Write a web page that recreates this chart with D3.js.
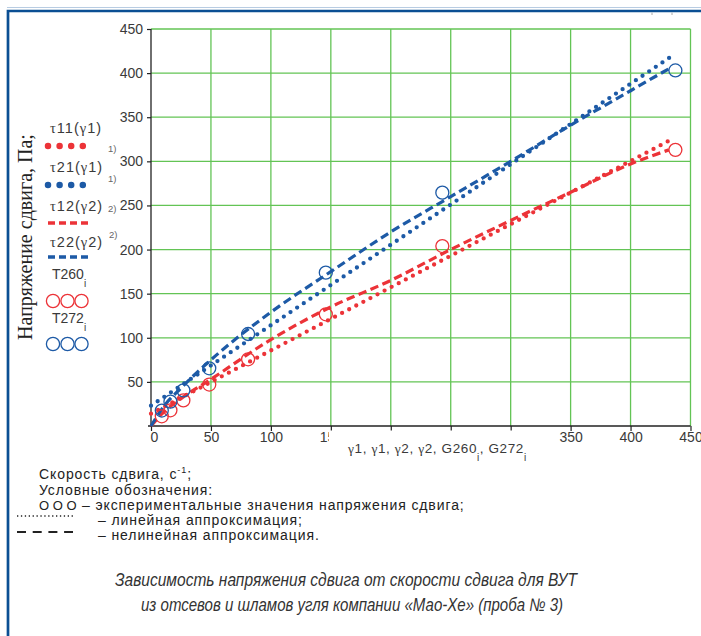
<!DOCTYPE html>
<html>
<head>
<meta charset="utf-8">
<script src="https://cdn.jsdelivr.net/npm/d3@7"></script>
<style>
  body { margin: 0; background: #fff; }
  svg { display: block; }
  .tick text { font-family: "Liberation Sans", Arial, sans-serif; font-size: 14px; fill: #3a3a3a; }
</style>
</head>
<body>
<svg id="chart" width="701" height="636"></svg>
<script>
// measured points, shear rate (1/s) and shear stress (Pa)
var gammaExp = [9, 16.2, 27, 48.6, 81, 145.8, 243, 437.4];
var t260 = [11, 17.8, 29, 47, 75.6, 126.6, 204, 313];
var t272 = [17.5, 27.6, 40.4, 65.4, 104.3, 173.8, 264.5, 403];

// linear approximation (dotted)
var gammaLin = [0, 433];
var tau11 = [14, 324];
var tau21 = [23, 418];

// nonlinear approximation (dashed)
var gammaFit = [0, 10, 25, 50, 100, 150, 200, 250, 300, 350, 400, 432];
var tau12 = [0, 15, 31, 53, 98, 135, 165, 200, 233, 265, 297, 313];
var tau22 = [0, 21, 43, 75, 129, 175, 220, 260, 300, 341, 380, 405];

var xTicks = [0, 50, 100, 150, 200, 250, 300, 350, 400, 450];
// 200..300 are hidden under the axis title in the original
var xTickLabels = ["0", "50", "100", "150", "", "", "", "350", "400", "450"];
var yTicks = [50, 100, 150, 200, 250, 300, 350, 400, 450];

var red = "#ec3338", blue = "#1d5aa6", grid = "#63c455";

var svg = d3.select("#chart");

var x = d3.scaleLinear().domain([0, 450]).range([151, 690.5]);
var y = d3.scaleLinear().domain([0, 450]).range([426, 29]);

// frame
svg.append("path").attr("d", "M7,7.5H701").attr("stroke", "#b8cce2").attr("stroke-width", 1).attr("fill", "none");
svg.append("path").attr("d", "M8,636V11H701").attr("stroke", "#0b4f93").attr("stroke-width", 2.7).attr("fill", "none");
svg.append("path").attr("d", "M652,12.5v2.5M672,12.5v2.5").attr("stroke", "#aaa").attr("stroke-width", 1);

// grid
var g = svg.append("g");
g.selectAll(".vg").data(xTicks.slice(1)).enter().append("line")
  .attr("x1", d => x(d)).attr("x2", d => x(d))
  .attr("y1", y(0)).attr("y2", y(450))
  .attr("stroke", grid).attr("stroke-width", 1.3);
g.selectAll(".hg").data(yTicks).enter().append("line")
  .attr("x1", x(0)).attr("x2", x(450))
  .attr("y1", d => y(d)).attr("y2", d => y(d))
  .attr("stroke", grid).attr("stroke-width", 1.3);

// axes
var xAxis = svg.append("g").attr("transform", "translate(0," + y(0) + ")")
  .call(d3.axisBottom(x).tickValues(xTicks).tickSize(5).tickSizeOuter(0).tickPadding(1)
    .tickFormat((d, i) => xTickLabels[i]));
var yAxis = svg.append("g").attr("transform", "translate(" + x(0) + ",0)")
  .call(d3.axisLeft(y).tickValues(yTicks).tickSize(4).tickSizeOuter(0).tickPadding(4));
[xAxis, yAxis].forEach(function (a) {
  a.select(".domain").attr("stroke", "#222").attr("stroke-width", 1.3);
  a.selectAll(".tick line").attr("stroke", "#222").attr("stroke-width", 1.2);
});
yAxis.select(".domain").attr("d", "M0," + y(0) + "V" + y(450));
xAxis.select(".domain").attr("d", "M" + (x(0) - 3) + ",0H" + x(450));
xAxis.select(".tick text").attr("dx", 3);

// the axis title sits on a white box that hides part of the 150 label
svg.append("rect").attr("x", 329).attr("y", 430.5).attr("width", 216).attr("height", 40).attr("fill", "#fff");

var xt = svg.append("text").attr("x", 348).attr("y", 452.5)
  .attr("font-family", "Liberation Sans, Arial, sans-serif").attr("font-size", 13.5)
  .attr("fill", "#3a3a3a").style("letter-spacing", "0.6px");
[["γ", 1], ["1, ", 0], ["γ", 1], ["1, ", 0], ["γ", 1], ["2, ", 0], ["γ", 1], ["2, G260", 0]].forEach(function (p) {
  xt.append("tspan").attr("font-family", p[1] ? "Liberation Serif, serif" : null).text(p[0]);
});
xt.append("tspan").attr("font-size", 10).attr("dy", 8).text("i");
xt.append("tspan").attr("dy", -8).text(", G272");
xt.append("tspan").attr("font-size", 10).attr("dy", 8).text("i");

// lines
var line = d3.line().x(d => x(d[0])).y(d => y(d[1]));
var curve = d3.line().x(d => x(d[0])).y(d => y(d[1])).curve(d3.curveMonotoneX);

function dotted(vals, col) {
  svg.append("path").datum(d3.zip(gammaLin, vals)).attr("d", line)
    .attr("fill", "none").attr("stroke", col).attr("stroke-width", 4.3)
    .attr("stroke-linecap", "round").attr("stroke-dasharray", "0 8");
}
function dashed(vals, col) {
  svg.append("path").datum(d3.zip(gammaFit, vals)).attr("d", curve)
    .attr("fill", "none").attr("stroke", col).attr("stroke-width", 3.2)
    .attr("stroke-dasharray", "8.5 4.5");
}
dotted(tau11, red);
dotted(tau21, blue);
dashed(tau12, red);
dashed(tau22, blue);

function circles(vals, col) {
  svg.append("g").selectAll("circle").data(d3.zip(gammaExp, vals)).enter().append("circle")
    .attr("cx", d => x(d[0])).attr("cy", d => y(d[1])).attr("r", 6.5)
    .attr("fill", "none").attr("stroke", col).attr("stroke-width", 1.3);
}
circles(t260, red);
circles(t272, blue);

// y title
svg.append("text").attr("transform", "translate(32,237) rotate(-90)")
  .attr("text-anchor", "middle").attr("font-family", "Liberation Serif, Times New Roman, serif")
  .attr("font-size", 20).attr("fill", "#222").text("Напряжение сдвига, Па;");

// legend on the left
var lg = svg.append("g").attr("font-family", "Liberation Sans, Arial, sans-serif")
  .attr("font-size", 14).attr("fill", "#3a3a3a");
function tauLabel(ty, a, b) {
  var t = lg.append("text").attr("x", 50).attr("y", ty).attr("font-size", 14.5).style("letter-spacing", "1px");
  t.append("tspan").attr("font-family", "Liberation Serif, serif").text("τ");
  t.append("tspan").text(a + "(");
  t.append("tspan").attr("font-family", "Liberation Serif, serif").text("γ");
  t.append("tspan").text(b + ")");
}
tauLabel(133, "11", "1");
tauLabel(172, "21", "1");
tauLabel(211, "12", "2");
tauLabel(247, "22", "2");
[[108, 152, "1)"], [108, 182, "1)"], [108, 212, "2)"], [109, 238, "2)"]].forEach(function (r) {
  lg.append("text").attr("x", r[0]).attr("y", r[1]).attr("font-size", 9.5).attr("fill", "#666").text(r[2]);
});

function legLine(yy, col, dash, w) {
  lg.append("line").attr("x1", 48).attr("x2", 89).attr("y1", yy).attr("y2", yy)
    .attr("stroke", col).attr("stroke-width", w).attr("stroke-linecap", dash ? "butt" : "round")
    .attr("stroke-dasharray", dash ? "7 4" : "0 11.6");
}
legLine(146, red, false, 6.5);
legLine(185, blue, false, 6.5);
legLine(223, red, true, 3.4);
legLine(257, blue, true, 3.4);

[[279, "T260", 301, red], [323, "T272", 344, blue]].forEach(function (r) {
  var t = lg.append("text").attr("x", 52).attr("y", r[0]).text(r[1]);
  t.append("tspan").attr("font-size", 10).attr("dy", 8).text("i");
  [53, 67.5, 81.5].forEach(function (cx) {
    lg.append("circle").attr("cx", cx).attr("cy", r[2]).attr("r", 6.6)
      .attr("fill", "none").attr("stroke", r[3]).attr("stroke-width", 1.3);
  });
});

// notes under the chart
var nt = svg.append("g").attr("font-family", "Liberation Sans, Arial, sans-serif")
  .attr("font-size", 14).attr("fill", "#222").style("letter-spacing", "0.9px");
var s1 = nt.append("text").attr("x", 39).attr("y", 479).text("Скорость сдвига, с");
s1.append("tspan").attr("font-size", 9).attr("dy", -6).text("-1");
s1.append("tspan").attr("dy", 6).text(";");
nt.append("text").attr("x", 39).attr("y", 495).text("Условные обозначения:");
nt.append("text").attr("x", 39).attr("y", 510).attr("font-size", 13).style("letter-spacing", "0px").text("О О О");
nt.append("text").attr("x", 82).attr("y", 510).text("– экспериментальные значения напряжения сдвига;");
nt.append("text").attr("x", 98).attr("y", 525).text("– линейная аппроксимация;");
nt.append("text").attr("x", 98).attr("y", 540).text("– нелинейная аппроксимация.");
nt.append("line").attr("x1", 17).attr("x2", 74).attr("y1", 516).attr("y2", 516)
  .attr("stroke", "#222").attr("stroke-width", 1.4).attr("stroke-dasharray", "1.3 2.6");
nt.append("line").attr("x1", 17).attr("x2", 73).attr("y1", 532).attr("y2", 532)
  .attr("stroke", "#222").attr("stroke-width", 2).attr("stroke-dasharray", "9 6.7");

// caption
var cp = svg.append("g").attr("font-family", "Liberation Sans, Arial, sans-serif")
  .attr("font-size", 18).attr("font-style", "italic").attr("fill", "#333");
cp.append("text").attr("x", 115).attr("y", 586).attr("textLength", 462).attr("lengthAdjust", "spacingAndGlyphs")
  .text("Зависимость напряжения сдвига от скорости сдвига для ВУТ");
cp.append("text").attr("x", 141).attr("y", 611).attr("textLength", 422).attr("lengthAdjust", "spacingAndGlyphs")
  .text("из отсевов и шламов угля компании «Мао-Хе» (проба № 3)");
</script>
</body>
</html>
